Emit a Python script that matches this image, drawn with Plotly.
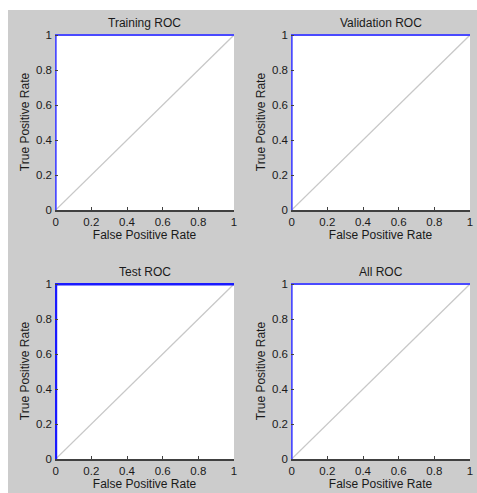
import plotly.graph_objects as go

titles = ["Training ROC", "Validation ROC", "Test ROC", "All ROC"]
train_fpr = [0, 0, 1]
train_tpr = [0, 1, 1]
val_fpr = [0, 0, 1]
val_tpr = [0, 1, 1]
test_fpr = [0, 0, 1]
test_tpr = [0, 1, 1]
all_fpr = [0, 0, 1]
all_tpr = [0, 1, 1]
diag = [0, 1]
ticks = [0, 0.2, 0.4, 0.6, 0.8, 1]
tick_labels = ["0", "0.2", "0.4", "0.6", "0.8", "1"]

curves = [(train_fpr, train_tpr), (val_fpr, val_tpr), (test_fpr, test_tpr), (all_fpr, all_tpr)]
widths = [2, 2, 3, 2]
colors = ["#4a4aff", "#4a4aff", "#1a1aff", "#4a4aff"]

W, H = 477, 493
# pixel boxes (left, right, top, bottom)
boxes = [(55, 234, 34, 210), (291, 470, 34, 210), (55, 234, 283, 459), (291, 470, 283, 459)]

fig = go.Figure()
font = dict(family="Liberation Sans, Arial, sans-serif", size=12, color="#1a1a1a")
tfont = dict(family="Liberation Sans, Arial, sans-serif", size=11.5, color="#1a1a1a")
for i, ((fx, ty), (l, r, t, b)) in enumerate(zip(curves, boxes)):
    n = "" if i == 0 else str(i + 1)
    xa, ya = "x" + n, "y" + n
    fig.add_trace(go.Scatter(x=diag, y=diag, mode="lines", line=dict(color="#c8c8c8", width=1.2),
                             xaxis=xa, yaxis=ya, showlegend=False, hoverinfo="skip"))
    fig.add_trace(go.Scatter(x=fx, y=ty, mode="lines", line=dict(color=colors[i], width=widths[i]),
                             xaxis=xa, yaxis=ya, showlegend=False))
    dx = [l / W, r / W]
    dy = [(H - b) / H, (H - t) / H]
    fig.layout["xaxis" + n] = dict(domain=dx, range=[-0.004, 1.0], anchor=ya, tickvals=ticks, ticktext=tick_labels,
                                   showgrid=False, zeroline=False, showline=True, linecolor="#404040", linewidth=2,
                                   ticks="inside", ticklen=3, tickcolor="#404040", tickfont=tfont,
                                   ticklabelstandoff=0, automargin=False,
                                   title=dict(text="False Positive Rate", font=font, standoff=0), layer="above traces")
    fig.layout["yaxis" + n] = dict(domain=dy, range=[0, 1.006], anchor=xa, tickvals=ticks, ticktext=tick_labels,
                                   showgrid=False, zeroline=False, showline=False,
                                   ticks="inside", ticklen=3, tickcolor="#404040", tickfont=tfont,
                                   ticklabelstandoff=2, automargin=False,
                                   title=dict(text="True Positive Rate", font=font, standoff=3), layer="above traces")
    fig.add_annotation(text=titles[i], x=(dx[0] + dx[1]) / 2, y=dy[1], xref="paper", yref="paper",
                       xanchor="center", yanchor="bottom", yshift=2, showarrow=False, font=font)

# white strips at left and top edges, as in the reference window capture
fig.add_shape(type="rect", xref="paper", yref="paper", x0=0, x1=8 / W, y0=0, y1=1,
              fillcolor="#ffffff", line=dict(width=0), layer="above")
fig.add_shape(type="rect", xref="paper", yref="paper", x0=0, x1=1, y0=(H - 10) / H, y1=1,
              fillcolor="#ffffff", line=dict(width=0), layer="above")

fig.update_layout(width=W, height=H, margin=dict(l=0, r=0, t=0, b=0),
                  paper_bgcolor="#cccccc", plot_bgcolor="#ffffff")
fig.write_html("out.html", config={"displayModeBar": False},
               post_script="document.body.style.margin='0';document.body.style.overflow='hidden';")
